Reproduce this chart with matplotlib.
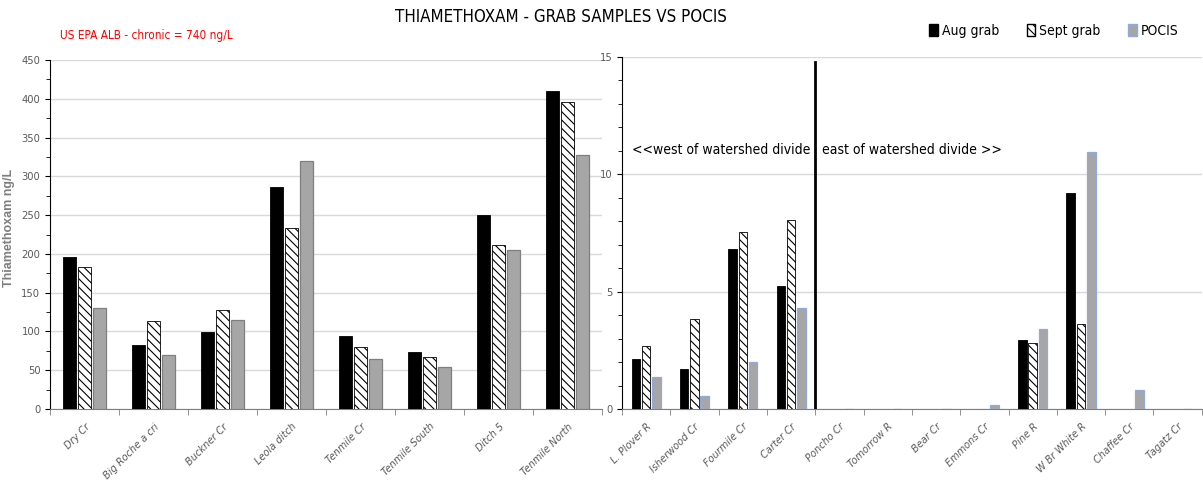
import numpy as np
import matplotlib.pyplot as plt
from matplotlib import font_manager
from matplotlib.patches import Patch

# pick a narrow face close to Calibri if one is installed
narrow = None
for f in font_manager.fontManager.ttflist:
    if f.name == "Liberation Sans Narrow":
        narrow = "Liberation Sans Narrow"
if narrow is None:
    for f in font_manager.fontManager.ttflist:
        if f.name == "DejaVu Sans" and "condensed" in str(f.stretch).lower():
            narrow = "DejaVu Sans"
main_font = narrow if narrow else "Lato"
stretch = "condensed" if main_font == "DejaVu Sans" else "normal"
plt.rcParams['font.family'] = [main_font, 'DejaVu Sans']
plt.rcParams['font.stretch'] = stretch
plt.rcParams['hatch.linewidth'] = 0.8

# left panel data (ng/L)
sites_left = ["Dry Cr", "Big Roche a cri", "Buckner Cr", "Leola ditch",
              "Tenmile Cr", "Tenmile South", "Ditch 5", "Tenmile North"]
aug_left = [196, 83, 99, 286, 94, 73, 250, 410]
sept_left = [183, 113, 128, 233, 80, 67, 211, 396]
pocis_left = [130, 70, 115, 320, 64, 54, 205, 327]

# right panel data (ng/L)
sites_right = ["L. Plover R", "Isherwood Cr", "Fourmile Cr", "Carter Cr",
               "Poncho Cr", "Tomorrow R", "Bear Cr", "Emmons Cr",
               "Pine R", "W Br White R", "Chaffee Cr", "Tagatz Cr"]
aug_right = [2.12, 1.72, 6.8, 5.24, 0, 0, 0, 0, 2.93, 9.2, 0, 0]
sept_right = [2.67, 3.83, 7.54, 8.05, 0, 0, 0, 0, 2.8, 3.63, 0, 0]
pocis_right = [1.35, 0.57, 2.0, 4.32, 0, 0, 0, 0.15, 3.4, 10.96, 0.8, 0]

label_color = "#595959"
grid_color = "#d9d9d9"

fig = plt.figure(figsize=(12.03, 4.92), dpi=100)
ax1 = fig.add_axes([0.0416, 0.1687, 0.459, 0.7093])
ax2 = fig.add_axes([0.517, 0.1687, 0.482, 0.7154])


def draw_panel(ax, sites, aug, sept, pocis, width, step, pocis_edge):
    x = np.arange(len(sites))
    ax.bar(x - step, aug, width, color="black", edgecolor="black", linewidth=0.6, zorder=3)
    ax.bar(x, sept, width, color="white", edgecolor="black", hatch="\\\\\\\\",
           linewidth=0.6, zorder=3)
    ax.bar(x + step, pocis, width, color="#a6a6a6", edgecolor=pocis_edge,
           linewidth=0.9, zorder=3)
    ax.set_xlim(-0.5, len(sites) - 0.5)
    ax.set_xticks(x)
    ax.set_xticklabels(sites, rotation=45, ha="right", rotation_mode="anchor",
                       style="italic", fontsize=7.8, color=label_color)
    ax.set_xticks(np.arange(len(sites) + 1) - 0.5, minor=True)
    ax.tick_params(axis="x", which="major", length=0, pad=9)
    ax.tick_params(axis="x", which="minor", length=4, color="#7f7f7f", direction="out")
    ax.tick_params(axis="y", which="both", direction="out", color="black", labelcolor=label_color,
                   labelsize=8)
    ax.tick_params(axis="y", which="minor", length=3)
    ax.yaxis.grid(True, color=grid_color, linewidth=1, zorder=0)
    ax.set_axisbelow(True)
    for s in ["top", "right"]:
        ax.spines[s].set_visible(False)
    ax.spines["bottom"].set_color("#7f7f7f")
    ax.spines["left"].set_color("black")


draw_panel(ax1, sites_left, aug_left, sept_left, pocis_left, 0.19, 0.215, "#7f7f7f")
ax1.set_ylim(0, 450)
ax1.set_yticks(np.arange(0, 451, 50))
ax1.set_yticks(np.arange(0, 451, 25), minor=True)
ax1.set_ylabel("Thiamethoxam ng/L", color="#7f7f7f", fontsize=9, fontweight="bold",
               family=["Liberation Sans", "DejaVu Sans"], fontstretch="normal")
ax1.yaxis.set_label_coords(-0.064, 0.52)

draw_panel(ax2, sites_right, aug_right, sept_right, pocis_right, 0.176, 0.213, "#8faadc")
ax2.set_ylim(0, 15)
ax2.set_yticks([0, 5, 10, 15])
ax2.set_yticks(np.arange(0, 16, 1), minor=True)
ax2.plot([3.5, 3.5], [0, 14.8], color="black", linewidth=2, zorder=4)
ax2.text(-0.3, 11.05, "<<west of watershed divide", fontsize=10, va="center")
ax2.text(3.64, 11.05, "east of watershed divide >>", fontsize=10, va="center")

fig.text(0.466, 0.965, "THIAMETHOXAM - GRAB SAMPLES VS POCIS", ha="center", va="center",
         fontsize=12.2)
fig.text(0.05, 0.928, "US EPA ALB - chronic = 740 ng/L", color="red", fontsize=8.5,
         va="center")

handles = [Patch(facecolor="black", edgecolor="black"),
           Patch(facecolor="white", edgecolor="black", hatch="\\\\\\\\"),
           Patch(facecolor="#a6a6a6", edgecolor="#8faadc")]
fig.legend(handles, ["Aug grab", "Sept grab", "POCIS"], loc="center", ncol=3,
           bbox_to_anchor=(0.876, 0.937), frameon=False, fontsize=10,
           handlelength=0.6, handleheight=0.9, handletextpad=0.3, columnspacing=2.0)

fig.savefig("out.png", dpi=100)
